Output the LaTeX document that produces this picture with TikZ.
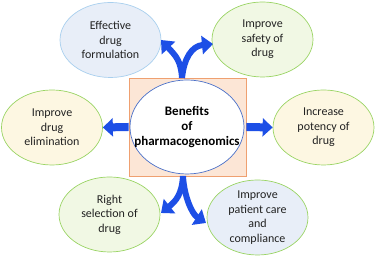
\documentclass[tikz,border=0pt]{standalone}
\usepackage{fontspec}
\setmainfont{Carlito}
\usetikzlibrary{arrows.meta,shapes.geometric}
\definecolor{arrowblue}{HTML}{1D4FE6}
\definecolor{sqfill}{HTML}{FCE6D6}
\definecolor{sqdraw}{HTML}{EFA070}
\definecolor{ctrdraw}{HTML}{4A70C8}
\definecolor{bluefill}{HTML}{E8EEF8}
\definecolor{bluedraw}{HTML}{A8CFEE}
\definecolor{greenfill}{HTML}{F1F8E4}
\definecolor{yellowfill}{HTML}{FDF7E2}
\definecolor{greendraw}{HTML}{9AD464}
\definecolor{txt}{HTML}{222222}
\begin{document}
\begin{tikzpicture}[x=1pt,y=1pt,
  benefit/.style={ellipse, draw, line width=0.7pt, minimum width=101pt, minimum height=75pt, inner sep=0pt},
  btext/.style={align=center, inner sep=0pt, text=txt, font=\fontsize{12}{14.5}\selectfont},
  straightarrow/.style={draw=arrowblue, line width=8pt,
    -{Triangle[length=10pt,width=18pt]}},
  curvearrow/.style={draw=arrowblue, line width=6pt,
    -{Triangle[length=11pt,width=18pt]}}
]
\useasboundingbox (0,0) rectangle (376,256);

\node[draw=sqdraw, fill=sqfill, line width=0.8pt, minimum width=117pt, minimum height=98pt, inner sep=0pt]
  (sq) at (187.5,129) {};
\node[ellipse, draw=ctrdraw, fill=white, line width=0.7pt, minimum width=114pt, minimum height=94pt,
  inner sep=0pt] (ctr) at (187,129) {};
\node[align=center, inner sep=0pt, text=black, font=\fontsize{13}{15}\selectfont\bfseries]
  (ctrtext) at (ctr) {Benefits\\of\\pharmacogenomics};

\node[benefit, draw=bluedraw, fill=bluefill] (tl) at (110.5,216) {};
\node[btext] (tltext) at (tl) {Effective\\drug\\formulation};
\node[benefit, draw=greendraw, fill=greenfill] (tr) at (262.5,216.5) {};
\node[btext] (trtext) at (tr) {Improve\\safety of\\drug};
\node[benefit, draw=greendraw, fill=yellowfill] (l) at (52,128.5) {};
\node[btext] (ltext) at (l) {Improve\\drug\\elimination};
\node[benefit, draw=greendraw, fill=yellowfill] (r) at (323.5,128.5) {};
\node[btext] (rtext) at (r) {Increase\\potency of\\drug};
\node[benefit, draw=greendraw, fill=greenfill] (bl) at (109.5,41.5) {};
\node[btext] (bltext) at (bl) {Right\\selection of\\drug};
\node[benefit, draw=greendraw, fill=bluefill] (br) at (257.5,38.5) {};
\node[btext] (brtext) at (br) {Improve\\patient care\\and\\compliance};

\draw[straightarrow] (sq.west) -- (l.east);
\draw[straightarrow] (sq.east) -- (r.west);

\coordinate (topsrc) at (182,178);
\coordinate (toplefttip) at (161,216);
\coordinate (toprighttip) at (213,212);
\coordinate (botsrc) at (183,80);
\coordinate (botlefttip) at (161,43);
\coordinate (botrighttip) at (206,33);

\draw[curvearrow] (topsrc) .. controls (181,195) and (176,200) .. (toplefttip);
\draw[curvearrow] (topsrc) .. controls (184,198) and (192,210) .. (toprighttip);
\draw[curvearrow] (botsrc) .. controls (182,62) and (176,55) .. (botlefttip);
\draw[curvearrow] (botsrc) .. controls (184,60) and (192,42) .. (botrighttip);
\end{tikzpicture}
\end{document}
